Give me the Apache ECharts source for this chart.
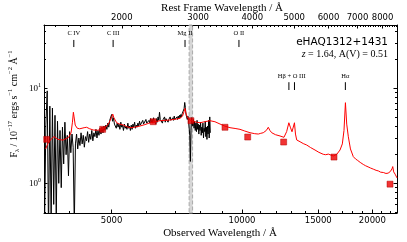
<!DOCTYPE html>
<html><head><meta charset="utf-8">
<script src="https://cdn.jsdelivr.net/npm/echarts@6/dist/echarts.min.js"></script>
<style>html,body{margin:0;padding:0;background:#fff}#c{width:407px;height:242px}</style>
</head><body><div id="c"></div>
<script>
const redshift = 1.64;
const xMin = 3490, xMax = 22800;
const yMin = 0.487, yMax = 46.4;
const obsMajor = [5000, 10000, 15000, 20000];
const obsMinor = [4000, 6000, 7000, 8000, 9000, 11000, 12000, 13000, 14000, 16000, 17000, 18000, 19000, 21000, 22000];
const restMajor = [2000, 3000, 4000, 5000, 6000, 7000, 8000];
const yMajor = [1, 10];
const yMinor = [0.5, 0.6, 0.7, 0.8, 0.9, 2, 3, 4, 5, 6, 7, 8, 9, 20, 30, 40];
const tellBand = [7550, 7690];

const blackSpectrum = [
[3500,0.35],[3525,4.2],[3550,9.4],[3575,0.3],[3600,6.5],[3625,0.4],[3650,6.2],[3675,0.6],[3700,5.2],[3725,0.45],[3750,4.5],[3775,1.0],[3800,3.6],
[3825,0.9],[3850,3.9],[3875,1.6],[3900,4.4],[3925,2.0],[3950,3.2],[3975,1.2],[4000,3.5],[4025,2.1],[4050,3.3],[4075,2.4],[4100,0.35],[4125,2.6],
[4150,3.3],[4175,2.3],[4200,3.0],[4225,2.5],[4250,3.4],[4275,2.6],[4300,3.2],[4325,2.4],[4350,3.1],[4375,2.8],[4400,3.5],[4425,2.7],[4450,3.3],[4475,2.9],
[4500,3.6],[4525,2.8],[4550,3.4],[4575,3.1],[4600,3.7],[4625,3.0],[4650,3.6],[4675,3.2],[4700,3.8],
[4725,3.3],[4750,3.9],[4775,3.4],[4800,4.0],[4825,3.6],[4850,4.1],[4875,3.7],[4900,4.3],[4925,3.9],[4950,4.6],[4975,4.4],[5000,5.3],[5025,4.5],[5050,4.9],[5075,4.2],[5100,4.4],
[5125,3.8],[5150,4.3],[5175,3.9],[5200,4.2],[5225,3.7],[5250,4.4],[5275,3.9],[5300,4.1],[5325,3.6],[5350,4.2],[5375,3.8],[5400,4.0],[5425,3.7],[5450,4.3],[5475,3.8],
[5500,4.0],[5525,3.6],[5550,4.1],[5575,3.7],[5600,4.2],[5625,3.9],[5650,4.4],[5675,3.8],[5700,4.1],[5725,3.9],[5750,4.3],[5775,4.0],[5800,4.5],[5825,4.1],[5850,4.3],
[5875,4.0],[5900,4.6],[5925,4.2],[5950,4.4],[5975,4.1],[6000,4.7],[6025,4.3],[6050,4.5],[6075,4.2],[6100,4.6],
[6125,4.3],[6150,4.8],[6175,4.4],[6200,4.7],[6225,4.3],[6250,4.9],[6275,4.5],[6300,4.6],[6325,4.2],[6350,4.8],[6375,4.4],[6400,5.0],[6425,4.6],[6450,5.6],[6475,4.7],
[6500,4.5],[6525,4.9],[6550,4.3],[6575,4.7],[6600,4.5],[6625,5.0],[6650,4.4],[6675,4.8],[6700,4.6],[6725,4.9],[6750,4.4],[6775,4.7],[6800,4.5],[6825,5.0],[6850,4.6],
[6875,4.8],[6900,4.4],[6925,4.9],[6950,4.6],[6975,5.1],[7000,4.7],[7025,4.9],[7050,4.5],[7075,5.0],[7100,4.7],[7125,5.1],[7150,4.8],[7175,5.2],[7200,4.9],[7225,5.3],
[7250,5.0],[7275,5.4],[7300,5.2],
[7325,5.6],[7350,6.1],[7375,7.1],[7400,6.3],[7425,5.3],[7450,5.0],[7475,4.7],[7500,5.1],[7525,4.6],[7550,4.8],[7575,3.2],[7600,1.7],[7625,3.6],[7650,4.9],
[7675,4.4],[7700,4.0],[7725,4.7],[7750,3.8],[7775,4.5],[7800,3.6],[7825,4.3],[7850,3.5],[7875,4.6],[7900,3.7],[7925,4.2],[7950,3.3],[7975,4.1],[8000,3.6],
[8025,4.4],[8050,3.2],[8075,3.9],[8100,3.4],[8125,4.3],[8150,3.0],[8175,3.8],[8200,3.5],[8225,4.5],[8250,3.1],[8275,3.9],[8300,2.9],[8325,4.0],[8350,3.3],
[8375,4.6],[8400,3.0],[8425,5.0],[8450,3.4]
];

const modelSpectrum = [
[3520,2.3],[3560,2.6],[3620,2.9],[3680,3.1],[3710,3.15],[3760,2.9],[3800,2.8],[3860,2.85],[3920,2.95],[3980,3.05],[4030,3.4],[4060,4.4],[4080,5.6],[4095,5.0],
[4120,4.1],[4165,3.8],[4220,3.75],[4265,3.73],[4320,3.85],[4378,3.89],[4450,3.75],[4536,3.64],[4640,3.62],[4742,3.70],[4850,3.9],[4940,4.4],[5000,5.0],[5030,5.36],
[5060,4.9],[5136,4.34],[5220,4.2],[5320,4.11],[5420,3.95],[5513,3.85],[5650,3.9],[5813,4.01],[5970,4.15],[6132,4.34],[6300,4.45],[6466,4.56],[6640,4.6],[6818,4.64],
[7000,4.72],[7193,4.83],[7290,5.1],[7350,5.7],[7387,6.16],[7420,5.5],[7490,4.85],[7585,4.64],[7700,4.5],[7850,4.4],[8000,4.34],[8200,4.45],[8436,4.56],[8660,4.45],
[8895,4.21],[9130,4.0],[9383,3.85],[9640,3.78],[9894,3.70],[10150,3.55],[10435,3.41],[10700,3.33],[10905,3.30],[11050,3.36],[11199,3.41],[11380,3.6],[11501,3.89],
[11600,3.6],[11711,3.41],[11950,3.25],[12240,3.15],[12500,3.05],[12680,3.5],[12830,4.34],[12930,3.9],[13047,3.49],[13150,3.6],[13218,4.34],[13290,3.3],[13377,2.86],
[13616,2.74],[13850,2.62],[14108,2.53],[14400,2.38],[14745,2.24],[15050,2.12],[15407,2.02],[15600,2.0],[15829,2.03],[16050,1.98],[16253,1.94],[16550,2.02],[16840,2.24],
[17050,2.6],[17200,3.6],[17332,7.06],[17450,4.2],[17602,3.09],[17800,2.3],[18072,1.91],[18300,1.80],[18500,1.74],[18750,1.66],[19057,1.58],[19300,1.53],[19550,1.49],
[19800,1.45],[20100,1.41],[20400,1.37],[20650,1.35],[20900,1.31],[21200,1.30],[21500,1.27],[21750,1.28],[22000,1.33],[22200,1.42],[22290,1.50],[22400,1.32],[22570,1.25],[22800,1.14]
];

const photWave = [3540, 4767, 6238, 7623, 9136, 10308, 12480, 16310, 21970];
const photFlux = [2.90, 3.70, 4.45, 4.56, 3.89, 3.07, 2.72, 1.89, 0.98];

const lineNames = ['C IV', 'C III', 'Mg II', 'O II', 'H\u03b2 + O III', 'H\u03b1'];
const lineRest = [[1549], [1909], [2798], [3727], [4861, 5007], [6563]];
const lineLevel = [0, 0, 0, 0, 1, 1];

// style constants (label heights in flux units)
const labelTextY = [38.2, 13.5];
const labelTickHi = [32.3, 11.6];
const labelTickLo = [27.2, 9.6];

const restMinor = [];
for (let w = 1400; w <= 8600; w += 100) if (w % 1000) restMinor.push(w);

const SERIF = 'Liberation Serif';
const SANS = 'DejaVu Sans';
const grid = {left: 44, top: 25, right: 10, bottom: 29, containLabel: false, outerBoundsMode: 'none'};
const plain = v => String(Math.round(v));

function axis(o) {
  return Object.assign({
    type: 'log', splitLine: {show: false}, minorTick: {show: false}, minorSplitLine: {show: false},
    axisLine: {show: true, onZero: false, lineStyle: {color: '#000', width: 1}},
    axisTick: {show: true, inside: true, length: 3.5, lineStyle: {color: '#000', width: 1}},
    axisLabel: {show: false}
  }, o);
}
const powRich = {
  b: {fontFamily: SERIF, fontSize: 9, lineHeight: 12, verticalAlign: 'middle', color: '#000'},
  s: {fontFamily: SERIF, fontSize: 6, lineHeight: 7, verticalAlign: 'top', color: '#000'}
};

const chart = echarts.init(document.getElementById('c'), null, {renderer: 'canvas'});
chart.setOption({
  animation: false,
  backgroundColor: '#fff',
  grid: [Object.assign({}, grid), Object.assign({}, grid)],
  xAxis: [
    axis({gridIndex: 0, min: xMin, max: xMax, position: 'bottom',
      axisTick: {show: true, inside: true, length: 3.5, customValues: obsMajor, lineStyle: {color: '#000'}},
      axisLabel: {show: true, customValues: obsMajor, formatter: plain, fontFamily: SANS, fontSize: 8.5, color: '#000', margin: 3}}),
    axis({gridIndex: 0, min: xMin / (1 + redshift), max: xMax / (1 + redshift), position: 'top',
      axisTick: {show: true, inside: true, length: 3.5, customValues: restMajor, lineStyle: {color: '#000'}},
      axisLabel: {show: true, customValues: restMajor, formatter: plain, fontFamily: SANS, fontSize: 8.5, color: '#000', margin: 3}}),
    axis({gridIndex: 1, min: xMin, max: xMax, position: 'bottom', axisLine: {show: false},
      axisTick: {show: true, inside: true, length: 2, customValues: obsMinor, lineStyle: {color: '#000'}}}),
    axis({gridIndex: 1, min: xMin / (1 + redshift), max: xMax / (1 + redshift), position: 'top', axisLine: {show: false},
      axisTick: {show: true, inside: true, length: 2, customValues: restMinor, lineStyle: {color: '#000'}}})
  ],
  yAxis: [
    axis({gridIndex: 0, min: yMin, max: yMax, position: 'left',
      axisTick: {show: true, inside: true, length: 3.5, customValues: yMajor, lineStyle: {color: '#000'}},
      axisLabel: {show: true, customValues: yMajor, margin: 3, rich: powRich,
        formatter: v => '{b|10}{s|' + Math.round(Math.log10(v)) + '}'}}),
    axis({gridIndex: 0, min: yMin, max: yMax, position: 'right',
      axisTick: {show: true, inside: true, length: 3.5, customValues: yMajor, lineStyle: {color: '#000'}}}),
    axis({gridIndex: 1, min: yMin, max: yMax, position: 'left', axisLine: {show: false},
      axisTick: {show: true, inside: true, length: 2, customValues: yMinor, lineStyle: {color: '#000'}}}),
    axis({gridIndex: 1, min: yMin, max: yMax, position: 'right', axisLine: {show: false},
      axisTick: {show: true, inside: true, length: 2, customValues: yMinor, lineStyle: {color: '#000'}}})
  ],
  series: [
    {type: 'line', xAxisIndex: 0, yAxisIndex: 0, data: blackSpectrum, showSymbol: false, symbol: 'none',
      lineStyle: {color: '#000', width: 1}, z: 2, silent: true,
      markArea: {silent: true, itemStyle: {color: 'rgba(200,200,200,0.75)', borderColor: '#aaa', borderWidth: 1, borderType: 'dashed'},
        data: [[{xAxis: tellBand[0]}, {xAxis: tellBand[1]}]]}},
    {type: 'line', xAxisIndex: 0, yAxisIndex: 0, data: modelSpectrum, showSymbol: false, symbol: 'none',
      lineStyle: {color: '#ff0000', width: 1}, z: 3, silent: true},
    {type: 'scatter', xAxisIndex: 0, yAxisIndex: 0, data: photWave.map((w, i) => [w, photFlux[i]]),
      symbol: 'rect', symbolSize: 6, itemStyle: {color: '#ee0000', borderColor: '#b00000', borderWidth: 0.6}, z: 5, silent: true},
    {type: 'custom', xAxisIndex: 0, yAxisIndex: 0, z: 4, silent: true, clip: false,
      data: lineRest.map((w, i) => [w[0] * (1 + redshift), labelTextY[lineLevel[i]]]),
      renderItem: function (params, api) {
        const i = params.dataIndex, lvl = lineLevel[i];
        const children = [];
        let sx = 0;
        lineRest[i].forEach(function (w) {
          const p1 = api.coord([w * (1 + redshift), labelTickLo[lvl]]);
          const p2 = api.coord([w * (1 + redshift), labelTickHi[lvl]]);
          sx += p1[0];
          children.push({type: 'line', shape: {x1: p1[0], y1: p1[1], x2: p2[0], y2: p2[1]}, style: {stroke: '#000', lineWidth: 1}});
        });
        const pt = api.coord([lineRest[i][0] * (1 + redshift), labelTextY[lvl]]);
        children.push({type: 'text', x: sx / lineRest[i].length, y: pt[1],
          style: {text: lineNames[i], fontFamily: SERIF, fontSize: 6.5, fill: '#000', align: 'center', verticalAlign: 'middle'}});
        return {type: 'group', children: children};
      }}
  ],
  graphic: [
    {type: 'text', x: 220, y: 233, silent: true,
      style: {text: 'Observed Wavelength / \u00c5', fontFamily: SERIF, fontSize: 11, fill: '#000', align: 'center', verticalAlign: 'middle'}},
    {type: 'text', x: 222, y: 8, silent: true,
      style: {text: 'Rest Frame Wavelength / \u00c5', fontFamily: SERIF, fontSize: 11, fill: '#000', align: 'center', verticalAlign: 'middle'}},
    {type: 'text', x: 14, y: 104, rotation: Math.PI / 2, silent: true,
      style: {text: '{n|F}{sub|\u03bb}{n| / 10}{sup|\u221217}{n| ergs s}{sup|\u22121}{n| cm}{sup|\u22122}{n| \u00c5}{sup|\u22121}',
        align: 'center', verticalAlign: 'middle', fill: '#000',
        rich: {
          n: {fontFamily: SERIF, fontSize: 10, lineHeight: 14, verticalAlign: 'middle', fill: '#000'},
          sup: {fontFamily: SERIF, fontSize: 6.5, lineHeight: 7, verticalAlign: 'top', fill: '#000'},
          sub: {fontFamily: SERIF, fontSize: 6.5, lineHeight: 7, verticalAlign: 'bottom', fill: '#000'}
        }}},
    {type: 'text', x: 388, y: 42, silent: true,
      style: {text: 'eHAQ1312+1431', fontFamily: SANS, fontSize: 10.5, fill: '#000', align: 'right', verticalAlign: 'middle'}},
    {type: 'text', x: 388, y: 54, silent: true,
      style: {text: '{i|z}{n| = 1.64, A(V) = 0.51}', align: 'right', verticalAlign: 'middle', fill: '#000',
        rich: {
          i: {fontFamily: SERIF, fontStyle: 'italic', fontSize: 10, fill: '#000'},
          n: {fontFamily: SERIF, fontSize: 10, fill: '#000'}
        }}}
  ]
});
</script></body></html>
